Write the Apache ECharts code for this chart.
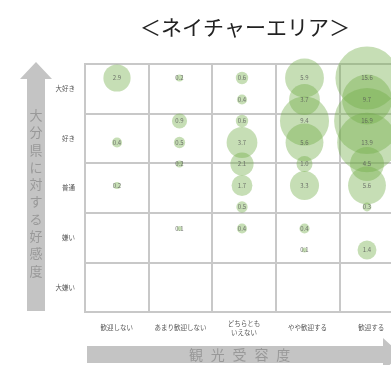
<!DOCTYPE html>
<html><head><meta charset="utf-8">
<script src="https://cdn.jsdelivr.net/npm/echarts@6/dist/echarts.min.js"></script>
<style>html,body{margin:0;padding:0;background:#fff}#c{width:391px;height:365px}</style>
</head><body><div id="c"></div>
<script>
// Categories
const xCats = ['歓迎しない', 'あまり歓迎しない', 'どちらとも\nいえない', 'やや歓迎する', '歓迎する'];
const yCats = ['大嫌い', '嫌い', '普通', '好き', '大好き'];
// bubble vertical levels (top -> bottom)
const levels = [9, 8, 7, 6, 5, 4, 3, 2, 1];
// values (%) per column, aligned with levels
const col1 = [2.9, null, null, 0.4, null, 0.2, null, null, null];
const col2 = [0.2, null, 0.9, 0.5, 0.2, null, null, 0.1, null];
const col3 = [0.6, 0.4, 0.6, 3.7, 2.1, 1.7, 0.5, 0.4, null];
const col4 = [5.9, 3.7, 9.4, 5.6, 1.0, 3.3, null, 0.4, 0.1];
const col5 = [15.6, 9.7, 16.9, 13.9, 4.5, 5.6, 0.3, null, 1.4];
const title = '＜ネイチャーエリア＞';
const yTitle = '大分県に対する好感度';
const xTitle = '観光受容度';

const cols = [col1, col2, col3, col4, col5];
const bubbles = [];
cols.forEach((col, xi) => col.forEach((v, li) => { if (v != null) bubbles.push([xi, levels[li], v]); }));

const FONT = '"Noto Sans CJK JP", "Noto Sans", sans-serif';
const lineC = '#c8c8c8';

const graphics = [];
// y arrow
graphics.push({type: 'polygon', shape: {points: [[27, 311], [45, 311], [45, 79], [52, 79], [36, 62], [20, 79], [27, 79]]}, style: {fill: '#c4c4c4'}, z: 0});
// x arrow
graphics.push({type: 'polygon', shape: {points: [[87, 346], [383, 346], [383, 338], [401, 354.5], [383, 371], [383, 363], [87, 363]]}, style: {fill: '#c4c4c4'}, z: 0});
Array.from(yTitle).forEach((ch, i) => graphics.push({type: 'text', x: 36, y: 115 + i * 17.3, style: {text: ch, font: '13px ' + FONT, fill: '#999', align: 'center', verticalAlign: 'middle'}, z: 1}));
Array.from(xTitle).forEach((ch, i) => graphics.push({type: 'text', x: 196 + i * 21.8, y: 354.5, style: {text: ch, font: '14px ' + FONT, fill: '#999', align: 'center', verticalAlign: 'middle'}, z: 1}));

const chart = echarts.init(document.getElementById('c'), null, {renderer: 'canvas'});
chart.setOption({
  backgroundColor: '#fff',
  animation: false,
  title: {text: title, left: 240, top: 12, textAlign: 'center', textStyle: {fontFamily: FONT, fontSize: 21, fontWeight: 'normal', color: '#222'}},
  grid: [
    {left: 85, width: 318, top: 64, height: 248, show: true, borderColor: lineC, borderWidth: 2, outerBoundsMode: 'none', containLabel: false},
    {left: 85.75, width: 312.5, top: 78, height: 172, outerBoundsMode: 'none', containLabel: false}
  ],
  xAxis: [
    {type: 'category', gridIndex: 0, data: xCats, boundaryGap: true,
     axisLine: {show: true, lineStyle: {color: lineC, width: 2}}, axisTick: {show: false},
     splitLine: {show: true, lineStyle: {color: lineC, width: 2}},
     axisLabel: {fontFamily: FONT, fontSize: 6.5, color: '#555', margin: 16, verticalAlign: 'middle', lineHeight: 9, interval: 0}},
    {type: 'category', gridIndex: 1, data: xCats, show: false}
  ],
  yAxis: [
    {type: 'category', gridIndex: 0, data: yCats, boundaryGap: true,
     axisLine: {show: true, lineStyle: {color: lineC, width: 2}}, axisTick: {show: false},
     splitLine: {show: true, lineStyle: {color: lineC, width: 2}},
     axisLabel: {fontFamily: FONT, fontSize: 6.5, color: '#555', margin: 10}},
    {type: 'value', gridIndex: 1, min: 1, max: 9, show: false}
  ],
  series: [{
    type: 'scatter', xAxisIndex: 1, yAxisIndex: 1, data: bubbles,
    symbolSize: d => 16 * Math.sqrt(d[2]),
    itemStyle: {color: 'rgba(112,173,71,0.5)'},
    label: {show: true, position: 'inside', formatter: p => p.value[2].toFixed(1), fontFamily: FONT, fontSize: 6, color: '#555'},
    z: 3
  }],
  graphic: graphics
});
</script></body></html>
